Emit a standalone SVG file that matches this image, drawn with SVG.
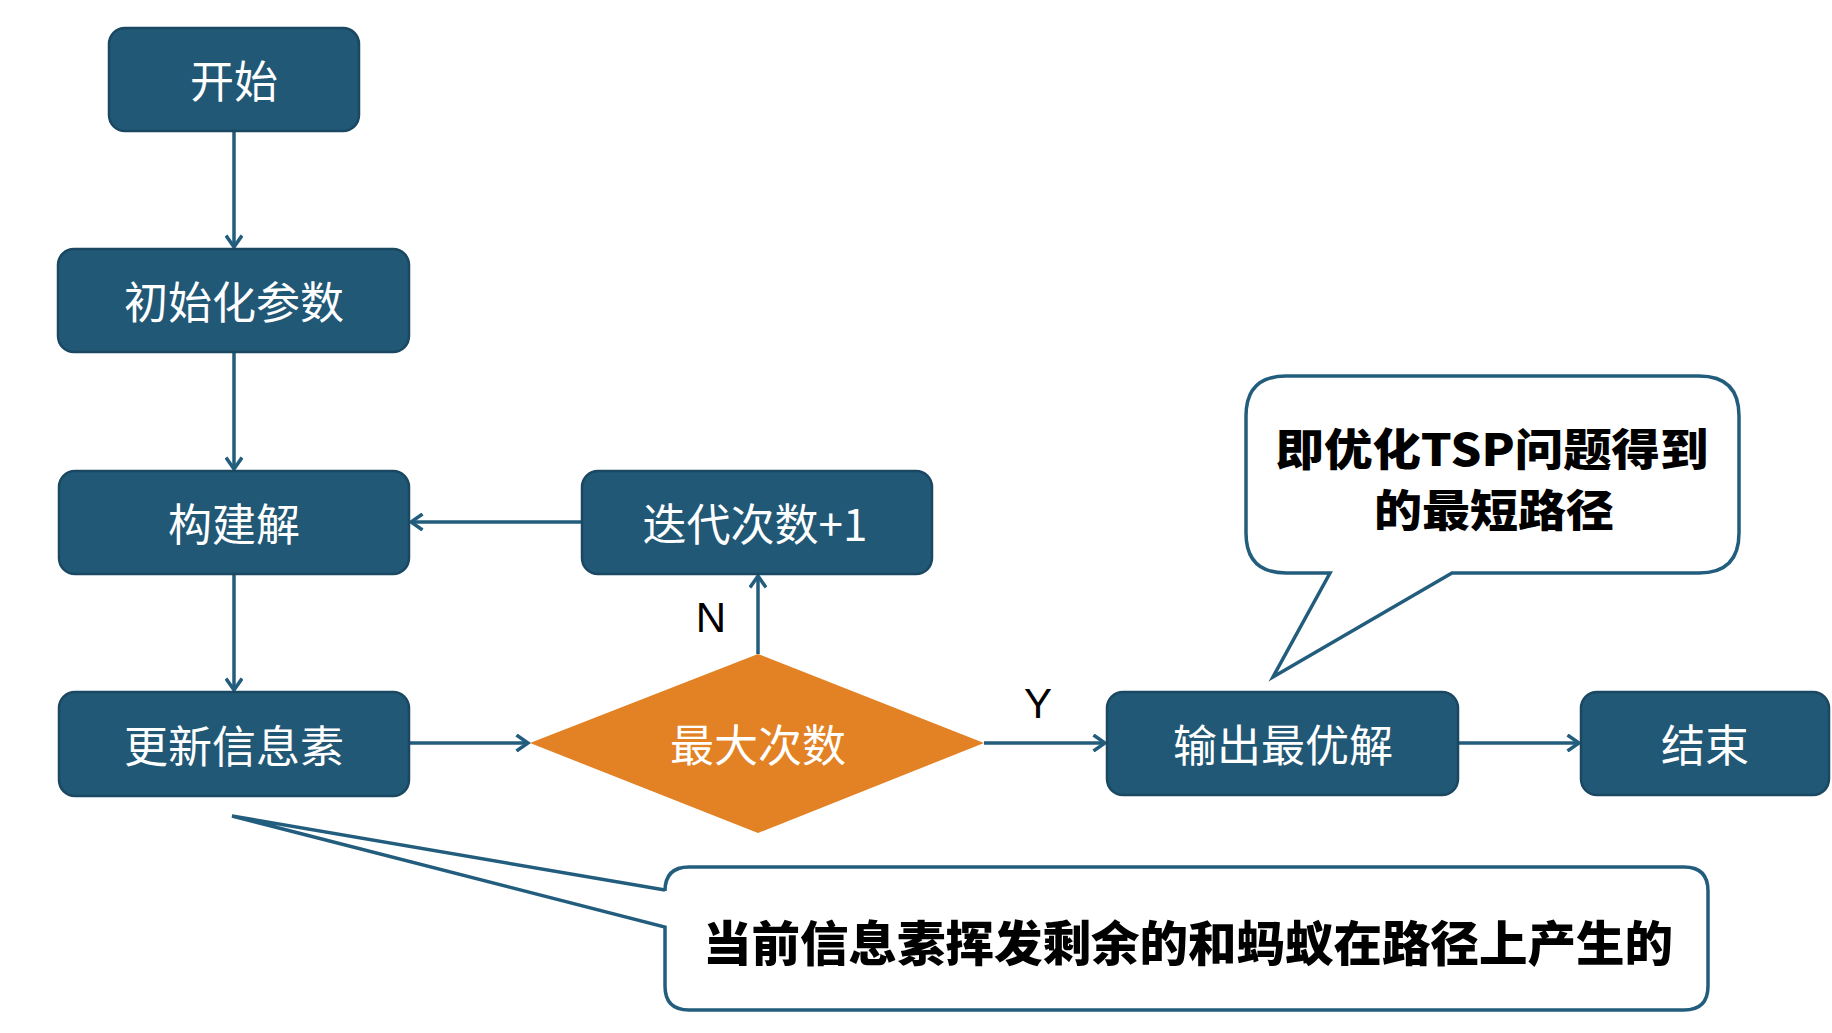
<svg xmlns="http://www.w3.org/2000/svg" width="1832" height="1033" viewBox="0 0 1832 1033">
<defs>
<style>
.box{fill:#215876;stroke:#1a4862;stroke-width:2.5}
.dia{fill:#e38225}
.nt{font-family:"Noto Sans CJK SC","Liberation Sans",sans-serif;font-size:44px;fill:#ffffff;text-anchor:middle}
.lbl{font-family:"Liberation Sans",Arial,sans-serif;font-size:42px;fill:#000000;text-anchor:middle}
.con{stroke:#235d7d;stroke-width:3.5;fill:none}
.call{fill:#ffffff;stroke:#235d7d;stroke-width:3.5;stroke-linejoin:miter}
.ct{font-family:"Noto Sans CJK SC","Liberation Sans",sans-serif;font-weight:900;fill:#000000;text-anchor:middle}
</style>
<marker id="arr" markerWidth="16" markerHeight="18" refX="13" refY="9" orient="auto" markerUnits="userSpaceOnUse">
<path d="M1.5,1 L13,9 L1.5,17" fill="none" stroke="#235d7d" stroke-width="3.5"/>
</marker>
</defs>
<rect width="1832" height="1033" fill="#ffffff"/>

<g id="connectors">
<line class="con" x1="234" y1="131" x2="234" y2="247" marker-end="url(#arr)"/>
<line class="con" x1="234" y1="352" x2="234" y2="469" marker-end="url(#arr)"/>
<line class="con" x1="234" y1="574" x2="234" y2="690" marker-end="url(#arr)"/>
<line class="con" x1="582" y1="522" x2="411" y2="522" marker-end="url(#arr)"/>
<line class="con" x1="409" y1="743" x2="528" y2="743" marker-end="url(#arr)"/>
<line class="con" x1="758" y1="654" x2="758" y2="576" marker-end="url(#arr)"/>
<line class="con" x1="984" y1="743" x2="1105" y2="743" marker-end="url(#arr)"/>
<line class="con" x1="1458" y1="743" x2="1579" y2="743" marker-end="url(#arr)"/>
<text class="lbl" x="711" y="632">N</text>
<text class="lbl" x="1038" y="718">Y</text>
</g>

<g id="node-start">
<rect class="box" x="109" y="28" width="250" height="103" rx="16"/>
<text class="nt" x="234" y="98">开始</text>
</g>
<g id="node-init">
<rect class="box" x="58" y="249" width="351" height="103" rx="16"/>
<text class="nt" x="234" y="319">初始化参数</text>
</g>
<g id="node-build">
<rect class="box" x="59" y="471" width="350" height="103" rx="16"/>
<text class="nt" x="234" y="541">构建解</text>
</g>
<g id="node-update">
<rect class="box" x="59" y="692" width="350" height="104" rx="16"/>
<text class="nt" x="234" y="763">更新信息素</text>
</g>
<g id="node-iter">
<rect class="box" x="582" y="471" width="350" height="103" rx="16"/>
<text class="nt" x="755" y="541">迭代次数+1</text>
</g>
<g id="node-decision">
<polygon class="dia" points="758,654 984,743 758,833 530,743"/>
<text class="nt" x="758" y="762">最大次数</text>
</g>
<g id="node-output">
<rect class="box" x="1107" y="692" width="351" height="103" rx="16"/>
<text class="nt" x="1283" y="762">输出最优解</text>
</g>
<g id="node-end">
<rect class="box" x="1581" y="692" width="248" height="103" rx="16"/>
<text class="nt" x="1705" y="762">结束</text>
</g>

<g id="callout-top">
<path class="call" d="M1286,376 H1699 Q1739,376 1739,416 V533 Q1739,573 1699,573 H1452 L1273,677 L1330,573 H1286 Q1246,573 1246,533 V416 Q1246,376 1286,376 Z"/>
<text class="ct" x="1492" y="466" font-size="44" textLength="433" lengthAdjust="spacingAndGlyphs">即优化TSP问题得到</text>
<text class="ct" x="1494" y="527" font-size="44" textLength="240" lengthAdjust="spacingAndGlyphs">的最短路径</text>
</g>

<g id="callout-bottom">
<path class="call" d="M689,867 H1684 Q1708,867 1708,891 V986 Q1708,1010 1684,1010 H689 Q665,1010 665,986 V927 L232,816 L665,890 V891 Q665,867 689,867 Z"/>
<text class="ct" x="1188" y="961" font-size="48" textLength="970" lengthAdjust="spacingAndGlyphs">当前信息素挥发剩余的和蚂蚁在路径上产生的</text>
</g>
</svg>
